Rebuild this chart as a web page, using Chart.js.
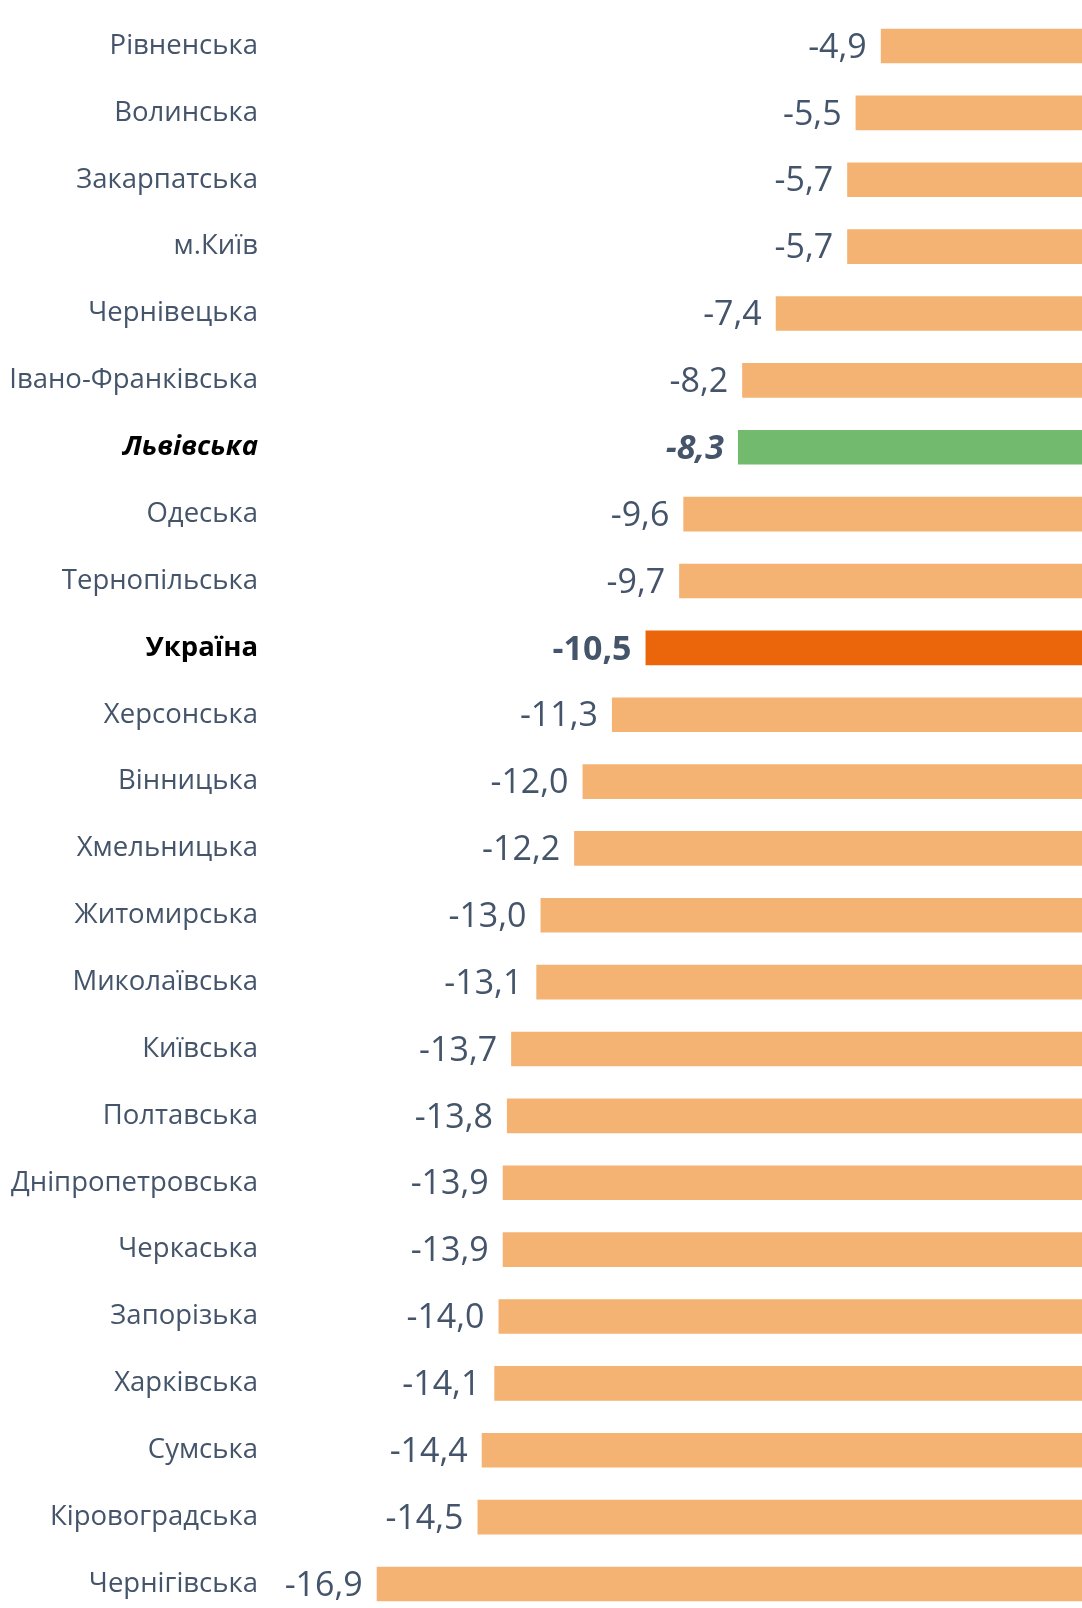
<!DOCTYPE html>
<html lang="uk">
<head>
<meta charset="utf-8">
<title>Regions</title>
<script src="https://cdn.jsdelivr.net/npm/chart.js@4.4.1/dist/chart.umd.min.js"></script>
<style>
  html, body { margin: 0; padding: 0; background: #fff; }
  #wrap { position: relative; width: 1082px; height: 1608px; }
</style>
</head>
<body>
<div id="wrap"><canvas id="chart"></canvas></div>
<script>
const regions = [
  'Рівненська', 'Волинська', 'Закарпатська', 'м.Київ', 'Чернівецька',
  'Івано-Франківська', 'Львівська', 'Одеська', 'Тернопільська', 'Україна',
  'Херсонська', 'Вінницька', 'Хмельницька', 'Житомирська', 'Миколаївська',
  'Київська', 'Полтавська', 'Дніпропетровська', 'Черкаська', 'Запорізька',
  'Харківська', 'Сумська', 'Кіровоградська', 'Чернігівська'
];
const values = [
  -4.9, -5.5, -5.7, -5.7, -7.4,
  -8.2, -8.3, -9.6, -9.7, -10.5,
  -11.3, -12.0, -12.2, -13.0, -13.1,
  -13.7, -13.8, -13.9, -13.9, -14.0,
  -14.1, -14.4, -14.5, -16.9
];
const highlightRegion = 'Львівська';
const totalRow = 'Україна';

const TEXT = '#44546A';
const FONT = "'Open Sans', 'Noto Sans', sans-serif";
const fmt = v => v.toFixed(1).replace('.', ',');

const barColors = regions.map(r =>
  r === highlightRegion ? '#72BB6E' : r === totalRow ? '#EB660A' : '#F4B373');

// --- value labels left of each bar ---
const valueLabels = {
  id: 'valueLabels',
  afterDatasetsDraw(chart) {
    const { ctx } = chart;
    const meta = chart.getDatasetMeta(0);
    ctx.save();
    ctx.textAlign = 'right';
    ctx.textBaseline = 'middle';
    ctx.fillStyle = TEXT;
    meta.data.forEach((bar, i) => {
      const r = regions[i];
      let style = '';
      if (r === highlightRegion) style = 'italic bold ';
      else if (r === totalRow) style = 'bold ';
      ctx.font = `${style}34px ${FONT}`;
      ctx.fillText(fmt(values[i]), bar.x - 14, bar.y + 2);
    });
    ctx.restore();
  }
};

new Chart(document.getElementById('chart'), {
  type: 'bar',
  data: {
    labels: regions,
    datasets: [{
      data: values,
      backgroundColor: barColors,
      borderWidth: 0,
      categoryPercentage: 1,
      barPercentage: 0.518,
      clip: false,
    }],
  },
  options: {
    indexAxis: 'y',
    responsive: true,
    maintainAspectRatio: false,
    animation: false,
    layout: { padding: { top: 46, bottom: 24, left: 0, right: 0 } },
    plugins: { legend: { display: false }, tooltip: { enabled: false } },
    scales: {
      x: { display: false, min: -19.44, max: -0.11 },
      y: {
        offset: false,
        grid: { display: false, drawTicks: false },
        border: { display: false },
        afterFit: s => {
          s.width = 270;
          s.paddingTop = 0;
          s.paddingBottom = 0;
        },
        ticks: {
          autoSkip: false,
          padding: 12,
          color: ctx => (regions[ctx.index] === highlightRegion || regions[ctx.index] === totalRow) ? '#000' : TEXT,
          font: ctx => {
            const r = regions[ctx.index];
            if (r === highlightRegion) return { family: FONT, size: 27.5, weight: 'bold', style: 'italic' };
            if (r === totalRow) return { family: FONT, size: 27.5, weight: 'bold' };
            return { family: FONT, size: 27.5 };
          },
        },
      },
    },
  },
  plugins: [valueLabels],
});
</script>
</body>
</html>
